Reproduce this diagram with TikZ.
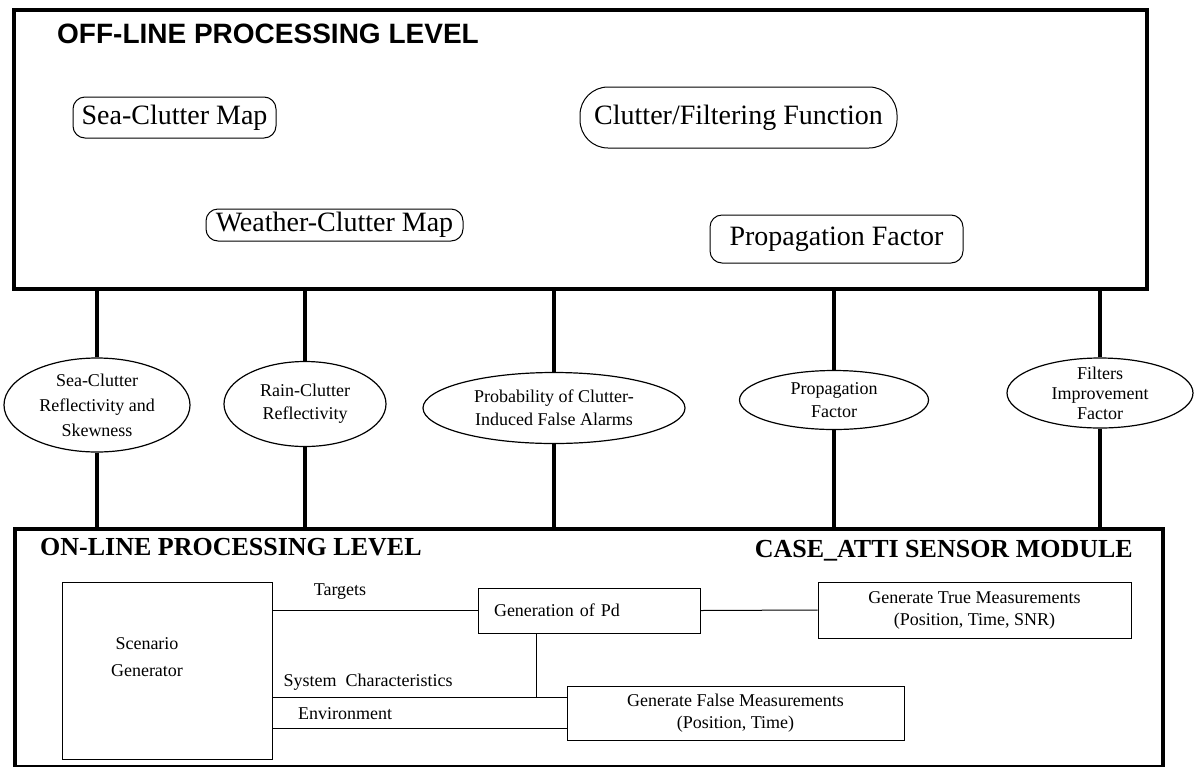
\documentclass[tikz,border=0pt]{standalone}
\usepackage{fontspec}
\setmainfont{Liberation Serif}
\newfontfamily\levelfont{Liberation Sans}
\usetikzlibrary{shapes.geometric}
\tikzset{
  level/.style={draw, line width=3.5, inner sep=0, anchor=north west},
  mapbox/.style={draw, line width=1, rounded corners=12, inner sep=0, font=\fontsize{28}{32}\selectfont},
  result/.style={draw, ellipse, line width=1.2, inner sep=0, align=center, font=\fontsize{18}{23}\selectfont},
  module/.style={draw, line width=1, inner sep=0, align=center, font=\fontsize{18}{22}\selectfont},
  plain/.style={inner sep=0, font=\fontsize{18}{27}\selectfont},
  feed/.style={line width=4},
  wire/.style={line width=1}
}
\begin{document}
\begin{tikzpicture}[x=1pt,y=-1pt]
  \useasboundingbox (0,0) rectangle (1198,766);
  \node[level, minimum width=1133, minimum height=279] (offline) at (12,8) {};
  \node[level, minimum width=1148, minimum height=238] (online) at (13,527) {};
  \node[anchor=base west, inner sep=0, font=\levelfont\bfseries\fontsize{28}{28}\selectfont] (offtitle) at (57,43) {OFF-LINE PROCESSING LEVEL};
  \node[anchor=base west, inner sep=0, font=\bfseries\fontsize{26}{26}\selectfont] (ontitle) at (40,555) {ON-LINE PROCESSING LEVEL};
  \node[anchor=base east, inner sep=0, font=\bfseries\fontsize{26}{26}\selectfont] (casetitle) at (1133,557) {CASE\_ATTI SENSOR MODULE};
  \node[mapbox, minimum width=203, minimum height=41] (seamap) at (174.5,117.5) {Sea-Clutter Map};
  \node[mapbox, rounded corners=28, minimum width=317, minimum height=61] (cfmap) at (738.5,117.5) {Clutter/Filtering Function};
  \node[mapbox, minimum width=257, minimum height=32] (wmap) at (334.5,225) {Weather-Clutter Map};
  \node[mapbox, minimum width=253, minimum height=48] (pfmap) at (836.5,239) {Propagation Factor};
  \node[result, minimum width=186, minimum height=94, font=\fontsize{18}{25}\selectfont] (sea) at (97,405) {Sea-Clutter\\Reflectivity and\\Skewness};
  \node[result, minimum width=162, minimum height=85] (rain) at (305,404) {Rain-Clutter\\Reflectivity};
  \node[result, minimum width=262, minimum height=71] (prob) at (554,408) {Probability of Clutter-\\Induced False Alarms};
  \node[result, minimum width=189, minimum height=59] (prop) at (834,400) {Propagation\\Factor};
  \node[result, minimum width=186, minimum height=70, inner ysep=-8, font=\fontsize{18}{20}\selectfont] (filt) at (1100,393) {Filters\\Improvement\\Factor};
  \node[module, minimum width=210, minimum height=177] (scen) at (167,670.5) {};
  \node[plain, align=center] (scentext) at (147,657) {Scenario\\Generator};
  \node[module, minimum width=222, minimum height=45, text width=190, inner xsep=16, align=left] (gen) at (589,610.5) {Generation of Pd};
  \node[module, minimum width=313, minimum height=56] (truem) at (974.5,610) {Generate True Measurements\\(Position, Time, SNR)};
  \node[module, minimum width=337, minimum height=54] (falsem) at (735.5,713) {Generate False Measurements\\(Position, Time)};
  \coordinate (sysj) at (536,697);
  \coordinate (envj) at (536,728);
  \node[plain] (targets) at (340,592) {Targets};
  \node[plain] (sysc) at (368,682) {System\ \ Characteristics};
  \node[plain] (env) at (345,714) {Environment};
  \begin{scope}[feed]
    \draw (sea.north) to (sea.north |- offline.south);
    \draw (rain.north) to (rain.north |- offline.south);
    \draw (prob.north) to (prob.north |- offline.south);
    \draw (prop.north) to (prop.north |- offline.south);
    \draw (filt.north) to (filt.north |- offline.south);
    \draw (sea.south) to (sea.south |- online.north);
    \draw (rain.south) to (rain.south |- online.north);
    \draw (prob.south) to (prob.south |- online.north);
    \draw (prop.south) to (prop.south |- online.north);
    \draw (filt.south) to (filt.south |- online.north);
  \end{scope}
  \begin{scope}[wire]
    \draw (scen.east |- gen.west) to (gen.west);
    \draw (gen.east) to (truem.west);
    \draw (gen.south -| sysj) to (sysj);
    \draw (scen.east |- sysj) to (falsem.west |- sysj);
    \draw (scen.east |- envj) to (falsem.west |- envj);
  \end{scope}
\end{tikzpicture}
\end{document}
